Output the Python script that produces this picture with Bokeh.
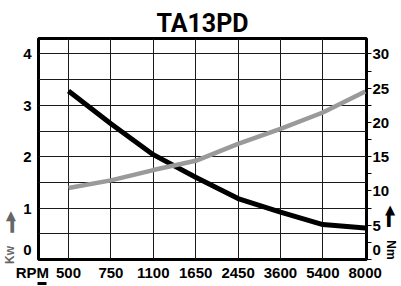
from bokeh.plotting import figure
from bokeh.models import Range1d, LinearAxis, FixedTicker, Arrow, NormalHead
from bokeh.embed import file_html
from bokeh.resources import INLINE

# ---- data ----
title_text = "TA13PD"
rpm_labels = ["500", "750", "1100", "1650", "2450", "3600", "5400", "8000"]
torque_nm = [24.6, 19.8, 15.3, 12.0, 8.9, 6.9, 5.1, 4.6]
power_kw = [1.39, 1.54, 1.74, 1.92, 2.25, 2.54, 2.86, 3.27]
kw_ticks = [0, 1, 2, 3, 4]
nm_ticks = [0, 5, 10, 15, 20, 25, 30]
nm_minor = [2.5, 7.5, 12.5, 17.5, 22.5, 27.5]
kw_grid = [0.5, 1.0, 1.5, 2.0, 2.5, 3.0, 3.5, 4.0]
x_name = "RPM"
kw_name = "Kw"
nm_name = "Nm"

x = list(range(len(rpm_labels)))
X0 = -0.706          # left end of the x range (where the x-axis name sits)

HEAD = "Roboto"
TICKF = "Liberation Sans"
NB = "\u00a0"

p = figure(width=401, height=286, output_backend="svg", toolbar_location=None,
           x_range=Range1d(X0 - 0.002, 7.03), y_range=Range1d(0, 4.3),
           min_border_left=38, min_border_right=34, min_border_top=38,
           min_border_bottom=27)
p.extra_y_ranges = {"nm": Range1d(0, 32.25)}

p.outline_line_color = "black"
p.outline_line_width = 3
p.background_fill_color = "white"
p.border_fill_color = "white"

# title
p.title.text = title_text
p.title.align = "center"
p.title.text_font = HEAD
p.title.text_font_style = "bold"
p.title.text_font_size = "25px"
p.title.text_color = "black"
p.title.standoff = 1

# grids
p.xgrid.ticker = FixedTicker(ticks=x[:-1])
p.ygrid.ticker = FixedTicker(ticks=kw_grid)
for g in (p.xgrid, p.ygrid):
    g.grid_line_color = "#1a1a1a"
    g.grid_line_width = 1

# x axis (the axis name is given as a label at the left end)
xa = p.xaxis[0]
xa.ticker = FixedTicker(ticks=[X0] + x)
overrides = {i: lab for i, lab in enumerate(rpm_labels)}
overrides[X0] = x_name + NB * 3
xa.major_label_overrides = overrides
xa.major_tick_out = 0
xa.major_tick_in = 0
xa.minor_tick_out = 0
xa.minor_tick_in = 0
xa.major_tick_line_color = None
xa.minor_tick_line_color = None
xa.axis_line_color = None
xa.major_label_standoff = 4
xa.major_label_text_font = TICKF
xa.major_label_text_font_style = "bold"
xa.major_label_text_font_size = "15px"
xa.major_label_text_color = "black"

# left axis (kW)
ya = p.yaxis[0]
ya.ticker = FixedTicker(ticks=kw_ticks)
ya.major_label_overrides = {0: "0\n "}
ya.major_tick_out = 0
ya.major_tick_in = 0
ya.minor_tick_out = 0
ya.minor_tick_in = 0
ya.major_tick_line_color = None
ya.minor_tick_line_color = None
ya.axis_line_color = None
ya.major_label_standoff = 7
ya.major_label_text_font = TICKF
ya.major_label_text_font_style = "bold"
ya.major_label_text_font_size = "15px"
ya.major_label_text_color = "black"
ya.axis_label = NB * 13 + kw_name + NB * 4 + "\u25ac\u25b6"
ya.axis_label_align = "start"
ya.axis_label_standoff = 3
ya.axis_label_text_font = TICKF
ya.axis_label_text_font_style = "bold"
ya.axis_label_text_font_size = "12px"
ya.axis_label_text_color = "#666666"

# right axis (Nm)
ra = LinearAxis(y_range_name="nm",
                ticker=FixedTicker(ticks=nm_ticks, minor_ticks=nm_minor))
ra.major_label_overrides = {0: "0\n "}
ra.axis_line_color = None
ra.major_tick_in = 0
ra.major_tick_out = 5
ra.minor_tick_in = 0
ra.minor_tick_out = 5
ra.major_tick_line_color = "black"
ra.minor_tick_line_color = "black"
ra.major_label_standoff = 1
ra.major_label_text_font = TICKF
ra.major_label_text_font_style = "bold"
ra.major_label_text_font_size = "15px"
ra.major_label_text_color = "black"
ra.axis_label = "\u25c0\u25ac" + NB * 4 + nm_name + NB * 16
ra.axis_label_align = "start"
ra.axis_label_standoff = -8
ra.axis_label_text_font = TICKF
ra.axis_label_text_font_style = "bold"
ra.axis_label_text_font_size = "12px"
ra.axis_label_text_color = "black"
p.add_layout(ra, "right")

# curves
p.line(x, torque_nm, y_range_name="nm", line_color="black", line_width=5)
p.line(x, power_kw, line_color="#9a9a9a", line_width=4.5)

# arrow under the x-axis name (canvas units, in the lower panel)
p.add_layout(Arrow(x_start=20, y_start=283, x_end=46, y_end=283,
                   start_units="canvas", end_units="canvas",
                   line_color="black", line_width=3,
                   end=NormalHead(size=9, fill_color="black",
                                  line_color="black", line_width=1)),
             "below")

open("out.html", "w").write(file_html(p, INLINE))
